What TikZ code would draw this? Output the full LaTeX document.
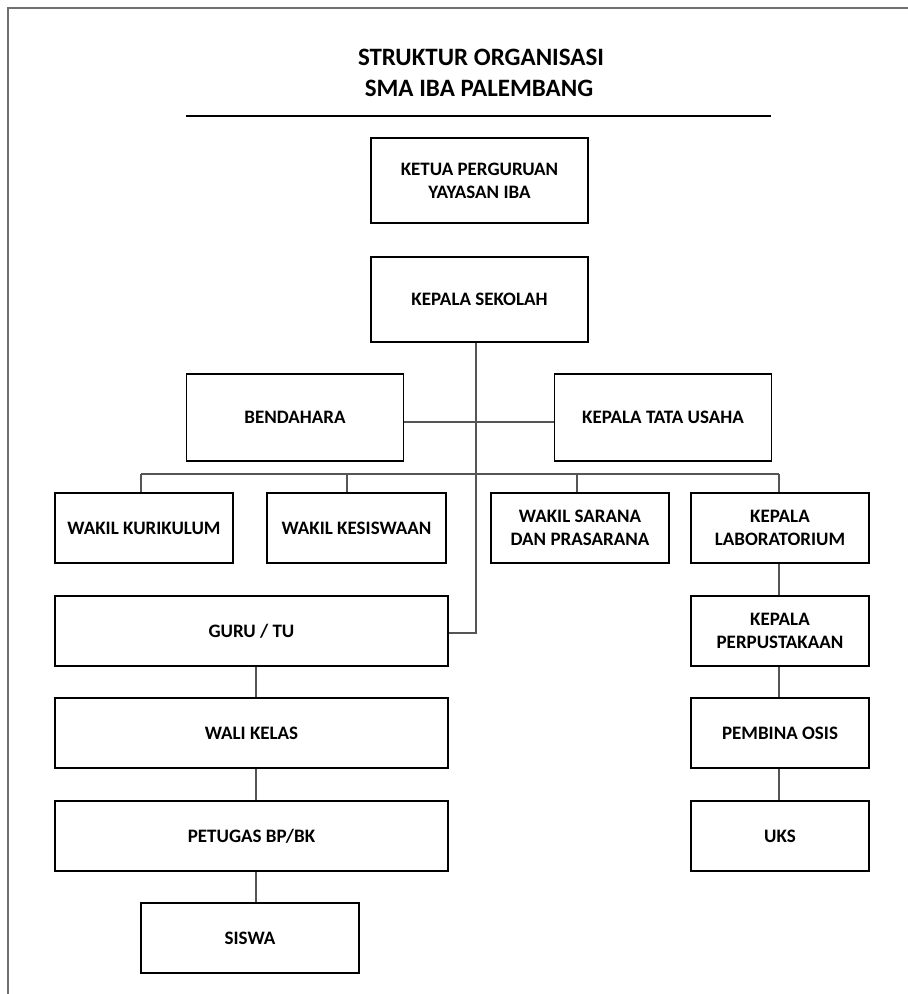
\documentclass[tikz,border=0pt]{standalone}
\usepackage{fontspec}
\setmainfont{Carlito}
\definecolor{frame}{HTML}{707070}
\definecolor{conn}{HTML}{555555}
\tikzset{
  x=1pt, y=-1pt,
  orgbase/.style={draw=black, line width=1.4pt, rectangle, inner sep=0pt, align=center,
    font=\fontsize{19}{23}\selectfont\bfseries},
  orgbox/.style={orgbase, text height=12.2pt, text depth=0pt},
  twobox/.style={orgbase},
  wbox/.style={minimum width=178pt, minimum height=70pt},
  conline/.style={draw=conn, line width=1.6pt},
  titletext/.style={font=\fontsize{25}{30}\selectfont\bfseries, anchor=base, inner sep=0pt},
}
\begin{document}
\begin{tikzpicture}
\useasboundingbox (0,0) rectangle (908,994);
% page frame
\draw[frame, line width=2.5pt] (908,8) -- (8,8) -- (8,994);
% title
\node[titletext] (t1) at (481,65) {STRUKTUR ORGANISASI};
\node[titletext] (t2) at (479,96) {SMA IBA PALEMBANG};
\coordinate (rl) at (186,116);
\coordinate (rr) at (771,116);
\draw[line width=1.4pt] (rl) -- (rr);
% boxes
\node[twobox, minimum width=217pt, minimum height=85pt] (ketua) at (479.5,180.5) {KETUA PERGURUAN\\YAYASAN IBA};
\node[orgbox, minimum width=217pt, minimum height=85pt] (kepsek) at (479.5,299.5) {KEPALA SEKOLAH};
\node[orgbox, minimum width=217pt, minimum height=87pt] (bend) at (295,417.5) {BENDAHARA};
\node[orgbox, minimum width=217pt, minimum height=87pt] (ktu) at (663,417.5) {KEPALA TATA USAHA};
\node[orgbox, wbox] (wkur) at (144,528) {WAKIL KURIKULUM};
\node[orgbox, wbox, minimum width=179pt] (wkes) at (356.5,528) {WAKIL KESISWAAN};
\node[twobox, wbox] (wsar) at (580,528) {WAKIL SARANA\\DAN PRASARANA};
\node[twobox, wbox] (klab) at (780,528) {KEPALA\\LABORATORIUM};
\node[orgbox, minimum width=393pt, minimum height=70pt] (guru) at (251.5,631) {GURU / TU};
\node[orgbox, minimum width=393pt, minimum height=70pt] (wali) at (251.5,733) {WALI KELAS};
\node[orgbox, minimum width=393pt, minimum height=70pt] (bpbk) at (251.5,836) {PETUGAS BP/BK};
\node[orgbox, minimum width=218pt, minimum height=70pt] (siswa) at (250,938) {SISWA};
\node[twobox, wbox] (perpus) at (780,631) {KEPALA\\PERPUSTAKAAN};
\node[orgbox, wbox] (osis) at (780,733) {PEMBINA OSIS};
\node[orgbox, wbox] (uks) at (780,836) {UKS};
% connector coordinates
\coordinate (spine) at (476,633);
\coordinate (mid) at (476,422);
\coordinate (d1) at (141,474);
\coordinate (d2) at (347,474);
\coordinate (d3) at (577,474);
\coordinate (d4) at (779,474);
\coordinate (lc) at (256,0);
\coordinate (rc) at (779,0);
% connectors
\draw[conline] (kepsek.south -| spine) -- (spine) -- (spine -| guru.east);
\draw[conline] (mid -| bend.east) -- (mid -| ktu.west);
\draw[conline] (d1) -- (d4);
\draw[conline] (d1) -- (d1 |- wkur.north);
\draw[conline] (d2) -- (d2 |- wkes.north);
\draw[conline] (d3) -- (d3 |- wsar.north);
\draw[conline] (d4) -- (d4 |- klab.north);
\draw[conline] (lc |- guru.south) -- (lc |- wali.north);
\draw[conline] (lc |- wali.south) -- (lc |- bpbk.north);
\draw[conline] (lc |- bpbk.south) -- (lc |- siswa.north);
\draw[conline] (rc |- klab.south) -- (rc |- perpus.north);
\draw[conline] (rc |- perpus.south) -- (rc |- osis.north);
\draw[conline] (rc |- osis.south) -- (rc |- uks.north);
\end{tikzpicture}
\end{document}
